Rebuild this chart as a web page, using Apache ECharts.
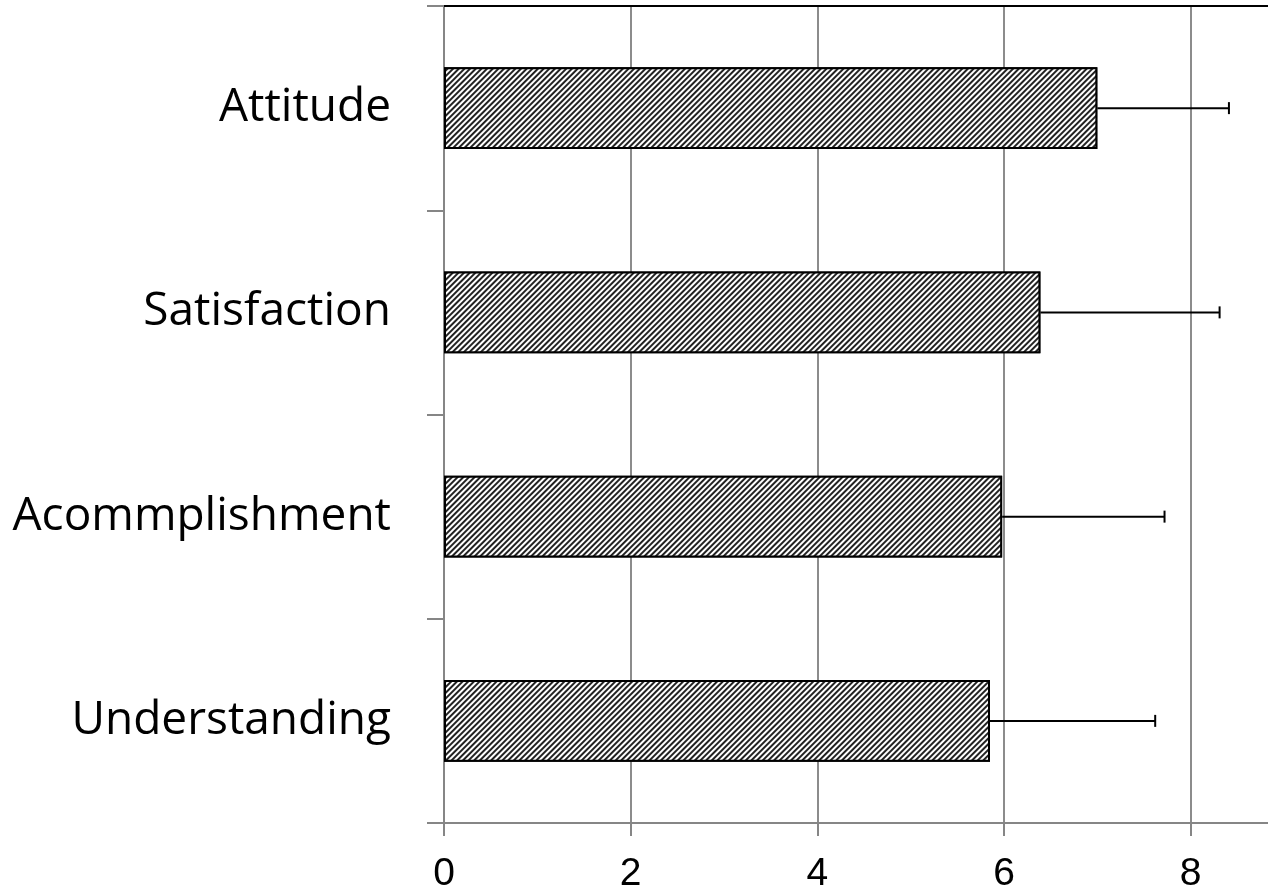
<!DOCTYPE html>
<html>
<head>
<meta charset="utf-8">
<script src="https://cdn.jsdelivr.net/npm/echarts@6/dist/echarts.min.js"></script>
<style>
  html, body { margin: 0; padding: 0; background: #fff; overflow: hidden; }
  #chart { width: 1285px; height: 894px; }
</style>
</head>
<body>
<div id="chart"></div>
<script>
var categories = ['Attitude', 'Satisfaction', 'Acommplishment', 'Understanding'];
var means = [7.0, 6.39, 5.98, 5.85];
var errors = [1.41, 1.92, 1.74, 1.77];

var chart = echarts.init(document.getElementById('chart'));

// [category index, mean, mean + error]
var errData = categories.map(function (c, i) {
    return [i, means[i], means[i] + errors[i]];
});

var option = {
    animation: false,
    grid: {
        left: 444,
        right: 1,
        top: 6,
        bottom: 71,
        outerBoundsMode: 'none'
    },
    xAxis: [{
        type: 'value',
        min: 0,
        max: 9,
        interval: 2,
        axisLine: { show: true, lineStyle: { color: '#868686', width: 2 } },
        axisTick: { show: true, length: 13, lineStyle: { color: '#868686', width: 2 } },
        splitLine: { show: true, lineStyle: { color: '#8c8c8c', width: 2 } },
        axisLabel: {
            margin: 32,
            showMaxLabel: false,
            color: '#000',
            fontSize: 39,
            fontFamily: 'Liberation Sans'
        }
    }, {
        type: 'value',
        position: 'top',
        min: 0,
        max: 9,
        axisLine: { show: true, onZero: false, lineStyle: { color: '#000', width: 2 } },
        axisTick: { show: false },
        splitLine: { show: false },
        axisLabel: { show: false }
    }],
    yAxis: {
        type: 'category',
        inverse: true,
        data: categories,
        axisLine: { show: true, lineStyle: { color: '#868686', width: 2 } },
        axisTick: { show: true, length: 17, lineStyle: { color: '#868686', width: 2 } },
        axisLabel: {
            margin: 53,
            color: '#000',
            fontSize: 46,
            fontFamily: 'Open Sans'
        }
    },
    series: [{
        type: 'bar',
        data: means,
        barWidth: '40%',
        itemStyle: {
            color: '#fff',
            borderColor: '#000',
            borderWidth: 2,
            decal: {
                symbol: 'rect',
                symbolSize: 1,
                color: '#222',
                backgroundColor: '#fff',
                dashArrayX: [1, 0],
                dashArrayY: [1.6, 1.6],
                rotation: -Math.PI / 4
            }
        },
        z: 3
    }, {
        type: 'custom',
        data: errData,
        z: 4,
        renderItem: function (params, api) {
            var start = api.coord([api.value(1), api.value(0)]);
            var end = api.coord([api.value(2), api.value(0)]);
            var cap = 6;
            var st = { stroke: '#000', lineWidth: 2 };
            return {
                type: 'group',
                children: [{
                    type: 'line',
                    shape: { x1: start[0], y1: start[1], x2: end[0], y2: end[1] },
                    style: st
                }, {
                    type: 'line',
                    shape: { x1: end[0], y1: end[1] - cap, x2: end[0], y2: end[1] + cap },
                    style: st
                }]
            };
        },
        encode: { x: [1, 2], y: 0 }
    }]
};

chart.setOption(option);
</script>
</body>
</html>
